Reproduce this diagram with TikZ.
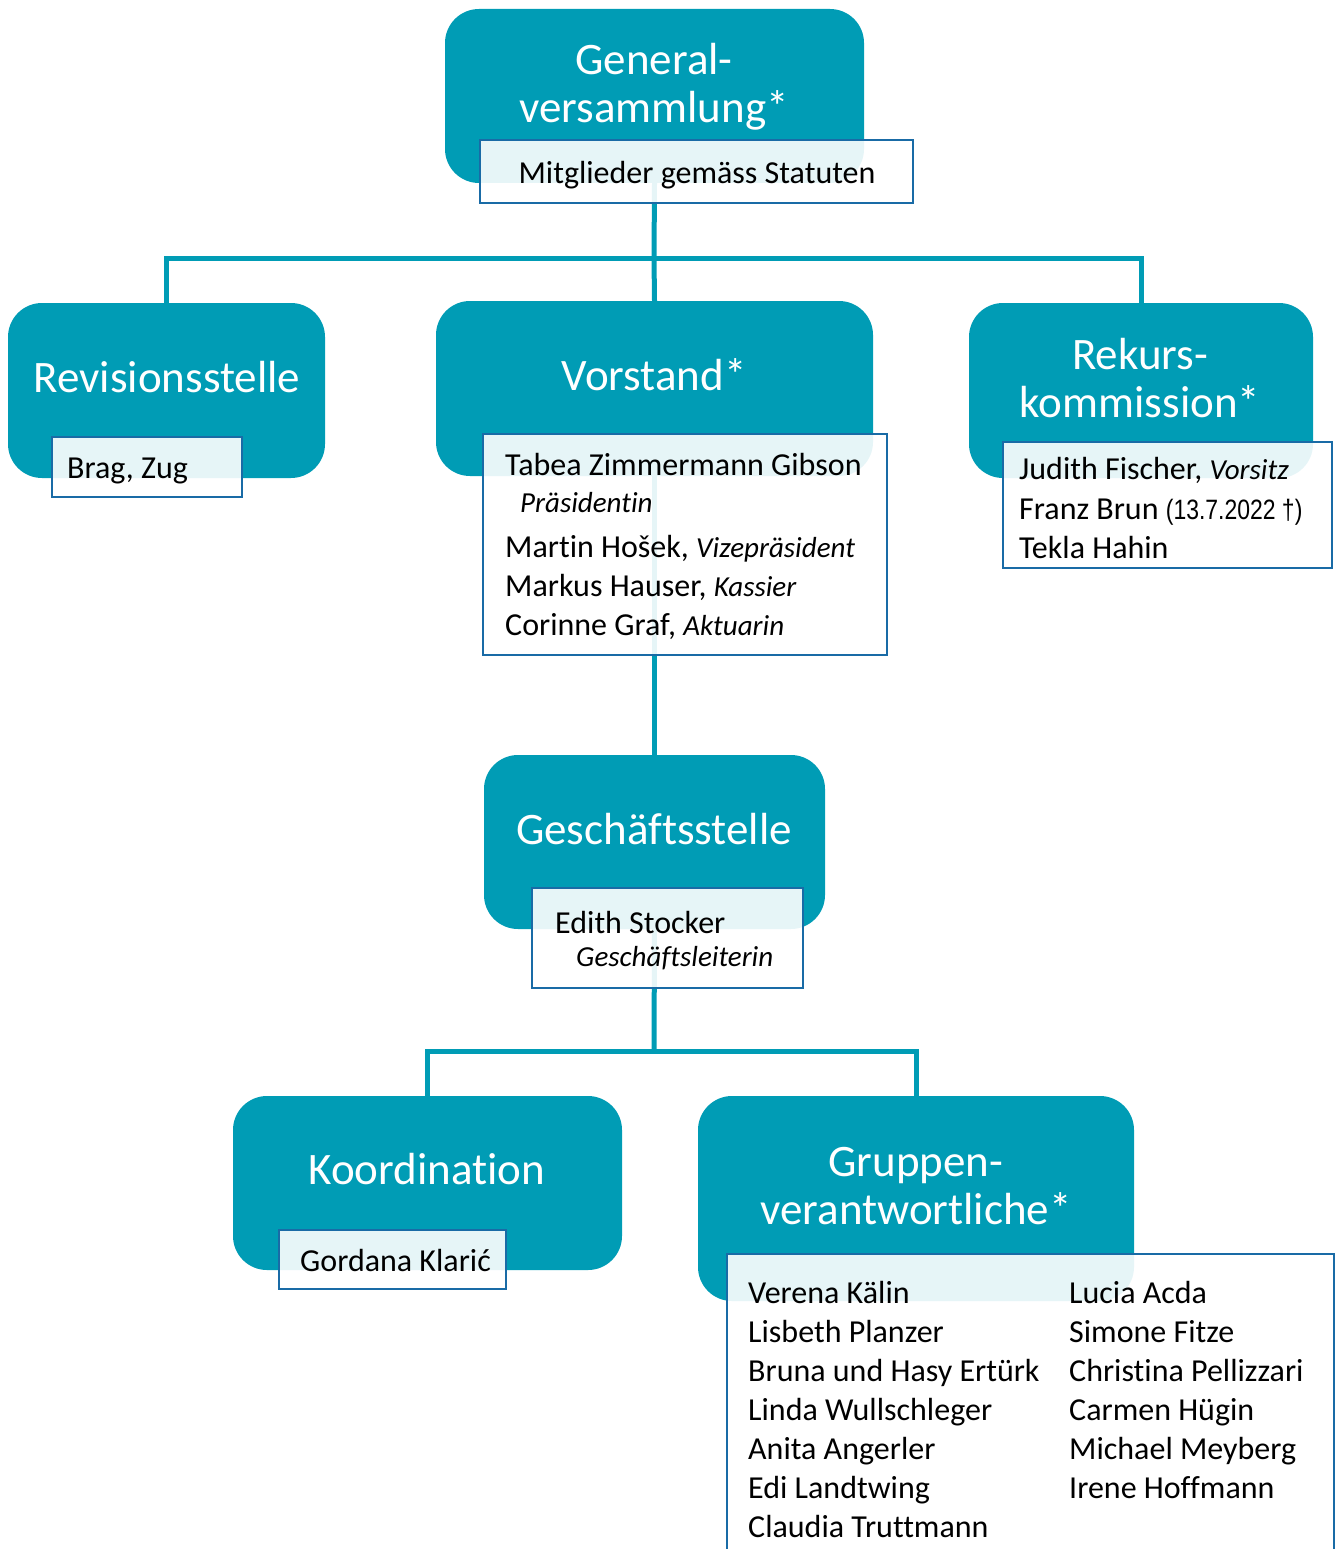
\documentclass[tikz,border=0pt]{standalone}
\usepackage{fontspec}
\setmainfont{Carlito}[Ligatures=NoCommon]
\newfontfamily\narrowfont{Liberation Sans}[FakeStretch=0.82]
\usetikzlibrary{backgrounds}
\definecolor{qq9cb5}{rgb}{0,0.612,0.71}
\definecolor{qq6aa5}{rgb}{0.1,0.42,0.65}
\newcommand{\amt}[1]{{\itshape\fontsize{29}{39}\selectfont #1}}

\begin{document}
\begin{tikzpicture}[x=1pt,y=-1pt,
	tealbox/.style={fill=qq9cb5, rounded corners=34pt, inner sep=0pt},
	titletext/.style={text=white, font=\fontsize{45}{48}\selectfont, align=center, inner sep=0pt, yshift=-2pt},
	infobox/.style={draw=qq6aa5, line width=2pt, fill=white, fill opacity=0.9, inner sep=0pt},
	infotext/.style={font=\fontsize{32}{39}\selectfont, align=left, inner sep=0pt, yshift=-3pt},
	link/.style={draw=qq9cb5, line width=5pt}]
			\useasboundingbox (0,0) rectangle (1340,1549);
			% teal boxes
			\node[tealbox, minimum width=419, minimum height=174] (gv) at (654.5,96) {};
			\node[tealbox, minimum width=317, minimum height=175] (rev) at (166.5,390.5) {};
			\node[tealbox, minimum width=437, minimum height=175] (vor) at (654.5,388.5) {};
			\node[tealbox, minimum width=344, minimum height=175] (rek) at (1141,390.5) {};
			\node[tealbox, minimum width=341, minimum height=174] (ges) at (654.5,842) {};
			\node[tealbox, minimum width=389, minimum height=174] (koo) at (427.5,1183) {};
			\node[tealbox, minimum width=436, minimum height=205] (gru) at (916,1198.5) {};
			% base = last line
			\node[titletext, anchor=base] (gvtitle) at (654,121) {General-\\versammlung*};
			\node[titletext, anchor=base] (revtitle) at (167,390) {Revisionsstelle};
			\node[titletext, anchor=base] (vortitle) at (654,388) {Vorstand*};
			\node[titletext, anchor=base] (rektitle) at (1140,415) {Rekurs-\\kommission*};
			\node[titletext, anchor=base] (gestitle) at (654,842) {Geschäftsstelle};
			\node[titletext, anchor=base] (kootitle) at (427,1182) {Koordination};
			\node[titletext, anchor=base] (grutitle) at (916,1222) {Gruppen-\\verantwortliche*};
			% white boxes
			\node[infobox, minimum width=433, minimum height=63] (gvinfo) at (696.5,171.5) {};
			\node[infobox, minimum width=190, minimum height=60] (revinfo) at (147,467) {};
			\node[infobox, minimum width=404, minimum height=221] (vorinfo) at (685,544.5) {};
			\node[infobox, minimum width=329, minimum height=126] (rekinfo) at (1167.5,505) {};
			\node[infobox, minimum width=271, minimum height=100] (gesinfo) at (667.5,938) {};
			\node[infobox, minimum width=227, minimum height=59] (kooinfo) at (392.5,1259.5) {};
			\node[infobox, minimum width=607, minimum height=346] (gruinfo) at (1030.5,1427) {};
			\node[infotext, anchor=base] (gvtext) at (697,180) {Mitglieder gemäss Statuten};
			\node[infotext, anchor=base west] (revtext) at (67,475) {Brag, Zug};
			\node[infotext, anchor=base west] (vortext) at (505,632) {Tabea Zimmermann Gibson\\[-2pt]
				\hspace*{15pt}\amt{Präsidentin}\\[6pt]
				Martin Hošek, \amt{Vizepräsident}\\
				Markus Hauser, \amt{Kassier}\\
				Corinne Graf, \amt{Aktuarin}};
			\node[infotext, anchor=base west] (rektext) at (1019,555) {Judith Fischer, \amt{Vorsitz}\\[1pt]
				Franz Brun {\narrowfont\fontsize{28}{39}\selectfont (13.7.2022 †)}\\
				Tekla Hahin};
			\node[infotext, anchor=base west] (gestext) at (555,963) {Edith Stocker\\[-6pt]
				\hspace*{21pt}\amt{Geschäftsleiterin}};
			\node[infotext, anchor=base west] (kootext) at (300,1268) {Gordana Klarić};
			\node[infotext, anchor=base west] (grutexta) at (748,1534) {Verena Kälin\\Lisbeth Planzer\\Bruna und Hasy Ertürk\\Linda Wullschleger\\Anita Angerler\\Edi Landtwing\\Claudia Truttmann};
			\node[infotext, anchor=base west] (grutextb) at (1069,1495) {Lucia Acda\\Simone Fitze\\Christina Pellizzari\\Carmen Hügin\\Michael Meyberg\\Irene Hoffmann};
			% connectors
			\coordinate (topfork) at (654,258);
			\coordinate (botfork) at (654,1051);
			\begin{scope}[on background layer]
				\draw[link] (gv.south) -- (topfork);
				\draw[link] (topfork) -| (rev.north);
				\draw[link] (topfork) -- (vor.north);
				\draw[link] (topfork) -| (rek.north);
				\draw[link] (vor.south) -- (ges.north);
				\draw[link] (ges.south) -- (botfork);
				\draw[link] (botfork) -| (koo.north);
				\draw[link] (botfork) -| (gru.north);
			\end{scope}
		\end{tikzpicture}
\end{document}
